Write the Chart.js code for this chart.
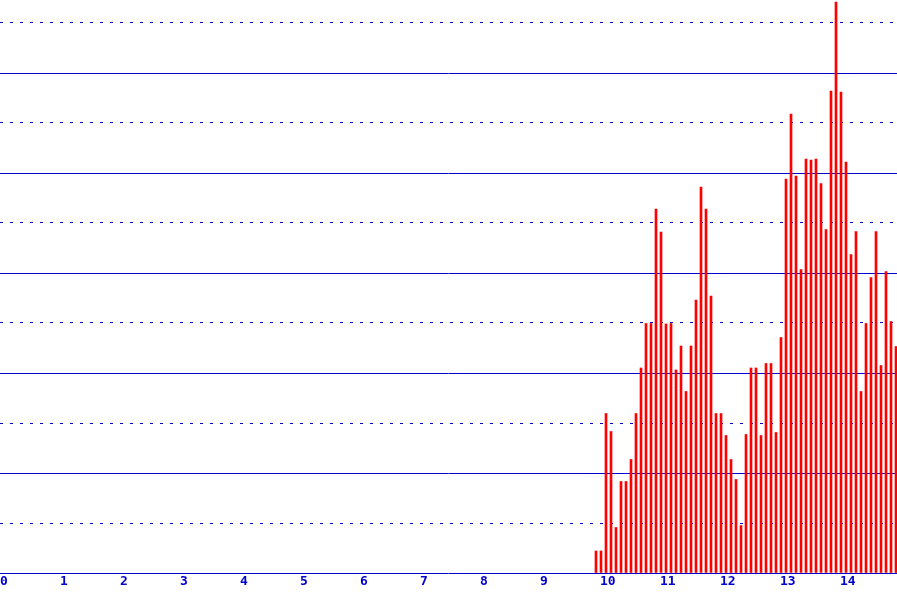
<!DOCTYPE html>
<html>
<head>
<meta charset="utf-8">
<script src="https://cdn.jsdelivr.net/npm/chart.js@4"></script>
<style>
  html, body { margin: 0; padding: 0; background: #fff; }
  #wrap { width: 897px; height: 593px; position: relative; }
</style>
</head>
<body>
<div id="wrap"><canvas id="myChart"></canvas></div>
<script>
// monthly bars, first bar is month 12 of year 9
const firstMonth = 9 + 11 / 12;
const tickLabels = ['0', '1', '2', '3', '4', '5', '6', '7', '8', '9', '10', '11', '12', '13', '14'];
const values = [
    4.4, 4.4, 31.9, 28.3, 9.1, 18.3, 18.3, 22.7, 31.9, 41.0, 49.9, 49.9,
    72.8, 68.2, 49.8, 49.9, 40.6, 45.4, 36.3, 45.4, 54.6, 77.2, 72.8, 55.4,
    31.9, 31.9, 27.5, 22.7, 18.7, 9.5, 27.7, 41.0, 41.0, 27.5, 41.9, 41.9,
    28.1, 47.1, 78.8, 91.8, 79.4, 60.7, 82.8, 82.6, 82.8, 77.9, 68.7, 96.4,
    114.2, 96.2, 82.2, 63.7, 68.3, 36.3, 49.9, 59.1, 68.3, 41.5, 60.3, 50.3,
    45.3
];

const blue = '#0000cc';
const ctx = document.getElementById('myChart');

new Chart(ctx, {
    type: 'bar',
    data: {
        datasets: [{
            // bar is 2px wide, left edge sits on the month start (1px = 1/60 unit)
            data: values.map((v, i) => ({ x: firstMonth + i / 12 + 1 / 60, y: v })),
            backgroundColor: '#ff0000',
            borderWidth: 0,
            barThickness: 2
        }]
    },
    options: {
        responsive: true,
        maintainAspectRatio: false,
        animation: false,
        layout: { padding: 0 },
        plugins: {
            legend: { display: false },
            tooltip: { enabled: false }
        },
        scales: {
            x: {
                type: 'linear',
                min: 0,
                max: 897 / 60,
                offset: false,
                grid: { display: false, offset: false, drawTicks: false },
                border: { display: false },
                afterFit: function (scale) {
                    scale.height = 20;
                    scale.paddingLeft = 0;
                    scale.paddingRight = 0;
                },
                ticks: {
                    stepSize: 1,
                    includeBounds: false,
                    autoSkip: false,
                    maxRotation: 0,
                    align: 'start',
                    padding: 1,
                    color: blue,
                    font: { family: 'DejaVu Sans Mono', size: 13, weight: 'bold' },
                    callback: function (value) { return tickLabels[value]; }
                }
            },
            y: {
                min: 0,
                max: 114.6,
                afterFit: function (scale) { scale.width = 0; },
                ticks: { display: false, stepSize: 10, includeBounds: false },
                grid: { color: blue, lineWidth: 1, drawTicks: false },
                border: {
                    display: false,
                    dash: function (c) {
                        return c.tick && c.tick.value % 20 === 0 ? [] : [3, 7];
                    }
                }
            }
        }
    }
});
</script>
</body>
</html>
